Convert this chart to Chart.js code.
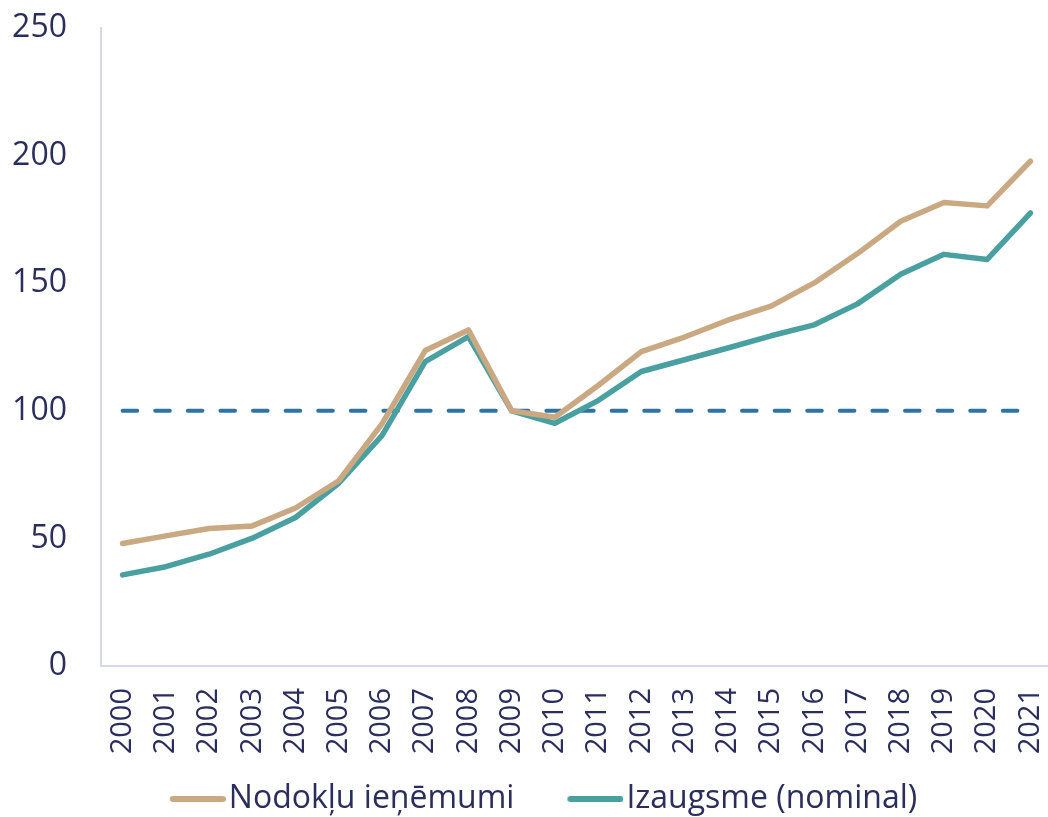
<!DOCTYPE html>
<html><head><meta charset="utf-8">
<script src="https://cdn.jsdelivr.net/npm/chart.js@4/dist/chart.umd.min.js"></script>
<style>html,body{margin:0;padding:0;background:#fff;overflow:hidden}#wrap{width:1052px;height:817px}</style>
</head><body><div id="wrap"><canvas id="c" width="1052" height="817"></canvas></div>
<script>
const years = ["2000","2001","2002","2003","2004","2005","2006","2007","2008","2009","2010","2011","2012","2013","2014","2015","2016","2017","2018","2019","2020","2021"];
const taxRevenue = [48.0,51.0,53.9,54.9,61.9,72.6,94.9,123.6,131.7,100,97.5,109.9,123.2,128.9,135.5,141.0,150.1,161.6,174.3,181.6,180.3,197.8];
const growthNominal = [35.7,38.9,43.8,50.1,58.2,71.6,90.3,119.3,129.1,100,95.1,104.0,115.4,120.0,124.6,129.4,133.7,141.9,153.5,161.3,159.3,177.5];
const baseLine = years.map(() => 100);
const seriesNames = ["Nodokļu ieņēmumi","Izaugsme (nominal)"];
const yTicks = [0,50,100,150,200,250];

const txt = '#2b2d5c';
const tan = '#c9a882', teal = '#4aa0a0';
const P = 66;

function legendLine(color) {
  const c = document.createElement('canvas');
  c.width = P + 26; c.height = 8;
  const g = c.getContext('2d');
  g.strokeStyle = color; g.lineWidth = 6; g.lineCap = 'round';
  g.beginPath(); g.moveTo(P - 30 + 3, 4); g.lineTo(P + 26 - 3, 4); g.stroke();
  return c;
}

new Chart(document.getElementById('c'), {
  type: 'line',
  data: {
    labels: years,
    datasets: [
      {label: seriesNames[0], data: taxRevenue, borderColor: tan, backgroundColor: tan, borderWidth: 5.5, pointRadius: 0, pointStyle: legendLine(tan), borderCapStyle: 'round', borderJoinStyle: 'round', tension: 0},
      {label: seriesNames[1], data: growthNominal, borderColor: teal, backgroundColor: teal, borderWidth: 5.5, pointRadius: 0, pointStyle: legendLine(teal), borderCapStyle: 'round', borderJoinStyle: 'round', tension: 0},
      {label: 'base', data: baseLine, borderColor: '#2e74a3', borderWidth: 4, borderDash: [14.6, 18], borderCapStyle: 'round', pointRadius: 0}
    ]
  },
  options: {
    responsive: false,
    animation: false,
    layout: {padding: {top: 28, left: 12, right: 0, bottom: -8}},
    plugins: {
      tooltip: {enabled: false},
      legend: {
        position: 'bottom',
        labels: {
          filter: (item) => item.text !== 'base',
          color: txt,
          font: {family: 'Open Sans', size: 32},
          usePointStyle: true, pointStyleWidth: P, boxHeight: 8,
          padding: 30
        }
      }
    },
    scales: {
      x: {
        offset: true,
        grid: {display: false, drawTicks: false},
        border: {display: true, color: '#d8d8ec', width: 2},
        ticks: {color: txt, font: {family: 'Open Sans', size: 29}, minRotation: 90, maxRotation: 90, padding: 22, autoSkip: false},
        afterFit: (s) => { s.height = 87; s.paddingLeft = 0; s.paddingRight = 0; }
      },
      y: {
        min: 0, max: 250,
        afterBuildTicks: (s) => { s.ticks = yTicks.map(v => ({value: v})); },
        grid: {display: false, drawTicks: false},
        border: {display: true, color: '#d8d8ec', width: 2},
        ticks: {color: txt, font: {family: 'Open Sans', size: 32}, padding: 34},
        afterFit: (s) => { s.width = 89; s.paddingTop = 0; s.paddingBottom = 0; }
      }
    }
  }
});
</script></body></html>
